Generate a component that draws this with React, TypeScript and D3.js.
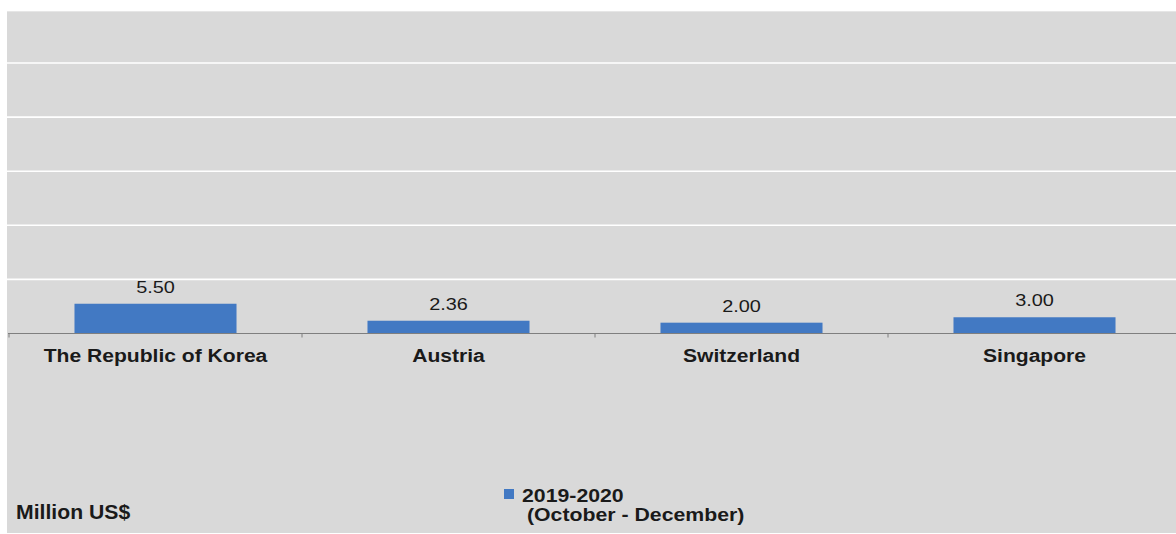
import React from "react";
import * as d3 from "d3";

const categories = ["The Republic of Korea", "Austria", "Switzerland", "Singapore"];
const values = [5.5, 2.36, 2.0, 3.0];
const valueLabels = ["5.50", "2.36", "2.00", "3.00"];
const gridTicks = [10, 20, 30, 40, 50];
const seriesName = "2019-2020";
const seriesSub = "(October - December)";
const unitLabel = "Million US$";

const W = 1176;
const H = 534;
const FONT = "'Liberation Sans', Arial, Helvetica, sans-serif";
const BAR = "#4279c3";
const SX = 1.15;

export default function App() {
  const x = d3
    .scaleBand<string>()
    .domain(categories)
    .range([9, 1181])
    .paddingInner(0.447)
    .paddingOuter(0.2235);
  const y = d3.scaleLinear().domain([0, 60]).range([333.5, 8.9]);
  const step = x.step();
  const boundaries = d3.range(categories.length + 1).map((i) => 9 + i * step);

  const T = (props: {
    x: number;
    y: number;
    size: number;
    weight?: string;
    anchor?: string;
    sx?: number;
    fill?: string;
    children: React.ReactNode;
  }) => (
    <text
      transform={`translate(${props.x},${props.y}) scale(${props.sx ?? SX},1)`}
      fontSize={props.size}
      fontWeight={props.weight ?? "normal"}
      textAnchor={props.anchor ?? "start"}
      fontFamily={FONT}
      fill={props.fill ?? "#1a1a1a"}
    >
      {props.children}
    </text>
  );

  return (
    <svg
      width={W}
      height={H}
      style={{ position: "absolute", left: 0, top: 0, display: "block" }}
    >
      <rect x={0} y={0} width={W} height={H} fill="#ffffff" />
      <rect x={7} y={11} width={W - 7} height={522} fill="#d9d9d9" />
      <line x1={7} x2={W} y1={11.5} y2={11.5} stroke="#e6e6e6" strokeWidth={1} />
      {gridTicks.map((t) => (
        <line
          key={t}
          x1={7}
          x2={W}
          y1={y(t)}
          y2={y(t)}
          stroke="#ffffff"
          strokeWidth={1.6}
        />
      ))}
      {categories.map((c, i) => (
        <rect
          key={c}
          x={x(c)!}
          y={y(values[i])}
          width={x.bandwidth()}
          height={y(0) - y(values[i])}
          fill={BAR}
        />
      ))}
      <line x1={8} x2={W} y1={y(0)} y2={y(0)} stroke="#7f7f7f" strokeWidth={1.2} />
      {boundaries.map((b, i) => (
        <line
          key={i}
          x1={b}
          x2={b}
          y1={y(0)}
          y2={y(0) + 4}
          stroke="#7f7f7f"
          strokeWidth={1}
        />
      ))}
      {categories.map((c, i) => (
        <T
          key={"v" + c}
          x={x(c)! + x.bandwidth() / 2}
          y={y(values[i]) - 11}
          size={17}
          anchor="middle"
          sx={1.17}
        >
          {valueLabels[i]}
        </T>
      ))}
      {categories.map((c) => (
        <T
          key={"c" + c}
          x={x(c)! + x.bandwidth() / 2}
          y={362}
          size={18.5}
          weight="bold"
          anchor="middle"
          sx={1.14}
        >
          {c}
        </T>
      ))}
      <T x={16} y={519} size={20} weight="bold" sx={1.06}>
        {unitLabel}
      </T>
      <rect x={504} y={489} width={10} height={10} fill={BAR} />
      <T x={522} y={502} size={18.5} weight="bold" sx={1.15}>
        {seriesName}
      </T>
      <T x={527} y={521} size={18.5} weight="bold" sx={1.15}>
        {seriesSub}
      </T>
    </svg>
  );
}
